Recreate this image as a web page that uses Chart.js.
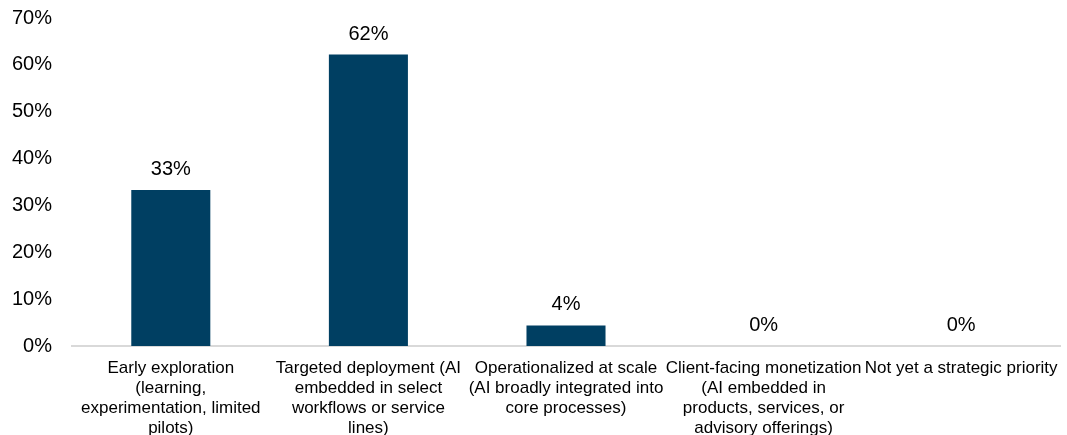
<!DOCTYPE html>
<html>
<head>
<meta charset="utf-8">
<script src="https://cdn.jsdelivr.net/npm/chart.js@4"></script>
<style>
  body { margin: 0; background: #fff; }
  #wrap { width: 1067px; height: 435px; }
</style>
</head>
<body>
<div id="wrap"><canvas id="chart-estagio-ia" width="1067" height="435"></canvas></div>
<script>
// Categorias (quebradas em linhas como no eixo)
const labels_estagio = [
  ['Early exploration', '(learning,', 'experimentation, limited', 'pilots)'],
  ['Targeted deployment (AI', 'embedded in select', 'workflows or service', 'lines)'],
  ['Operationalized at scale', '(AI broadly integrated into', 'core processes)'],
  ['Client-facing monetization', '(AI embedded in', 'products, services, or', 'advisory offerings)'],
  ['Not yet a strategic priority'],
]

// Percentual de respostas
const valores_estagio = [33.3, 62.2, 4.4, 0, 0]

// Ticks do eixo y
const ticks_y = [0, 10, 20, 30, 40, 50, 60, 70]

const fonte = 'Liberation Sans, Arial, sans-serif'

// Rótulo de valor acima de cada barra
const rotuloBarras = {
  id: 'rotuloBarras',
  afterDatasetsDraw(chart) {
    const ctx = chart.ctx
    ctx.save()
    ctx.font = '20px ' + fonte
    ctx.fillStyle = '#000'
    ctx.textAlign = 'center'
    ctx.textBaseline = 'alphabetic'
    chart.getDatasetMeta(0).data.forEach((bar, i) => {
      ctx.fillText(Math.round(valores_estagio[i]) + '%', bar.x, bar.y - 15)
    })
    ctx.restore()
  }
}

const data_estagio = {
  labels: labels_estagio,
  datasets: [{
    label: 'Estágio',
    backgroundColor: '#003F62',
    borderWidth: 0,
    data: valores_estagio,
    categoryPercentage: 1,
    barPercentage: 0.4,
  }]
};

const config_estagio = {
  type: 'bar',
  data: data_estagio,
  options: {
    responsive: false,
    animation: false,
    layout: { padding: { left: 12, right: 7, top: 18, bottom: 0 } },
    plugins: {
      legend: { display: false },
      tooltip: { enabled: false },
    },
    scales: {
      y: {
        min: 0,
        max: 70,
        afterBuildTicks(axis) {
          axis.ticks = ticks_y.map(v => ({ value: v }))
        },
        afterFit(axis) {
          axis.width = 60
          axis.paddingTop = 0
          axis.paddingBottom = 0
        },
        grid: { display: false, drawTicks: false },
        border: { display: false },
        ticks: {
          padding: 20,
          color: '#000',
          font: { family: fonte, size: 20 },
          callback: v => v + '%',
        }
      },
      x: {
        afterFit(axis) {
          axis.height = 89
          axis.paddingLeft = 0
          axis.paddingRight = 0
        },
        grid: { display: false, drawTicks: false },
        border: { display: true, color: '#d9d9d9', width: 2 },
        ticks: {
          padding: 12,
          maxRotation: 0,
          autoSkip: false,
          color: '#000',
          font: { family: fonte, size: 17, lineHeight: 1.18 },
        }
      }
    }
  },
  plugins: [rotuloBarras]
};

const myChart_estagio = new Chart(
  document.getElementById('chart-estagio-ia'),
  config_estagio
);
</script>
</body>
</html>
